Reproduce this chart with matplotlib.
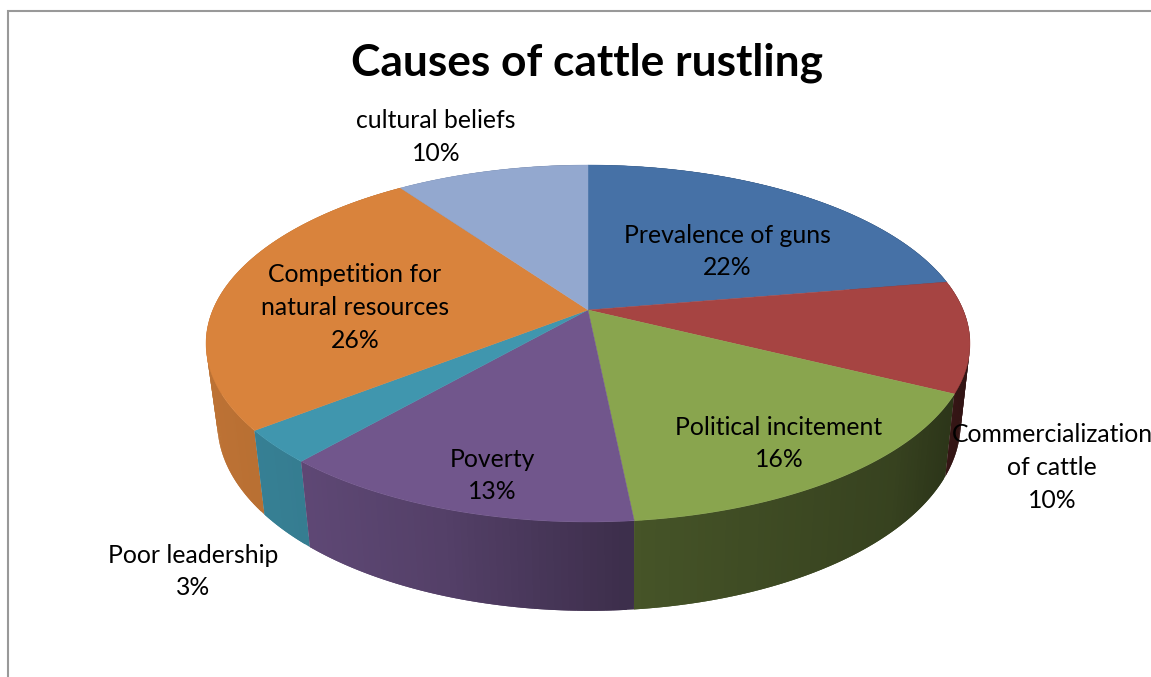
import matplotlib.pyplot as plt
import numpy as np

plt.rcParams['font.family'] = ['Lato', 'DejaVu Sans']

# slices, clockwise from 12 o'clock
causes = ["Prevalence of guns", "Commercialization\nof cattle", "Political incitement", "Poverty",
          "Poor leadership", "Competition for\nnatural resources", "cultural beliefs"]
shares = [22, 10, 16, 13, 3, 26, 10]
top_colors = ["#4671A6", "#A64442", "#89A54E", "#71568C", "#4096AE", "#D9833C", "#93A8CF"]
label_xy = [(727, 251.5), (1052, 467.5), (779, 443.5), (492, 475.5), (193, 571.5), (355, 307.5), (436, 137)]


def project(angle, cy, a, b, k=0.1877, cx=588):
    # perspective view of a unit circle lying flat, angle clockwise from the far side
    u = np.sin(angle)
    v = np.cos(angle)
    w = 1 + k * v
    return cx + a * u / w, cy - b * v / w


def rim_top(angle):
    return project(angle, 310, 375.2, 172.2)


def rim_bottom(angle):
    return project(angle, 388, 365, 181, cx=589)


def shade(hex_color, f):
    rgb = np.array(plt.matplotlib.colors.to_rgb(hex_color))
    return tuple(rgb * f)


fig = plt.figure(figsize=(11.51, 6.77), dpi=100)
ax = fig.add_axes([0, 0, 1, 1])
ax.set_xlim(0, 1151)
ax.set_ylim(677, 0)
ax.axis('off')

# chart frame, only left and top edges are in view
ax.plot([8.5, 8.5, 1151], [677, 10.5, 10.5], color='#999999', lw=1.5, solid_joinstyle='miter')

edges = np.cumsum([0] + shares) / sum(shares) * 2 * np.pi
# the view is skewed a little, edges lean clockwise away from 12 o'clock
edges = edges + np.radians(1.45) * np.sqrt(np.abs(np.sin(edges / 2)))

# outer wall, darkens going round from left to right
# each strip runs one step past its end so the next one paints over the seam
for i in reversed(range(len(shares))):
    steps = np.linspace(edges[i], edges[i + 1], max(3, shares[i] * 4))
    dt = steps[1] - steps[0]
    for a0 in steps[:-1][::-1]:
        span = np.array([a0, a0 + dt])
        xt, yt = rim_top(span)
        f = np.interp(xt.mean(), [207, 311, 450, 632, 640, 900, 950, 970],
                      [0.87, 0.83, 0.74, 0.54, 0.51, 0.40, 0.33, 0.30])
        # overlap toward the previous strip (the one drawn next)
        over = np.array([a0, a0 + dt * 2]) if a0 + dt * 2 <= edges[i + 1] + 1e-9 else span
        xt, yt = rim_top(over)
        xb, yb = rim_bottom(over[::-1])
        ax.fill(np.r_[xt, xb], np.r_[yt, yb], color=shade(top_colors[i], f), lw=0, zorder=2)

# top face
for i in range(len(shares)):
    t = np.linspace(edges[i], edges[i + 1], 200)
    x, y = rim_top(t)
    ax.fill(np.r_[588, x], np.r_[310, y], color=top_colors[i], lw=0.3, zorder=3)

for name, value, (lx, ly) in zip(causes, shares, label_xy):
    ax.text(lx, ly, f"{name}\n{value}%", ha='center', va='center', fontsize=17.8, color='black',
            linespacing=1.5, zorder=5)

ax.text(587, 63, "Causes of cattle rustling", ha='center', va='center', fontsize=31.9, fontweight='bold', color='black')

fig.savefig('out.png', dpi=100)
